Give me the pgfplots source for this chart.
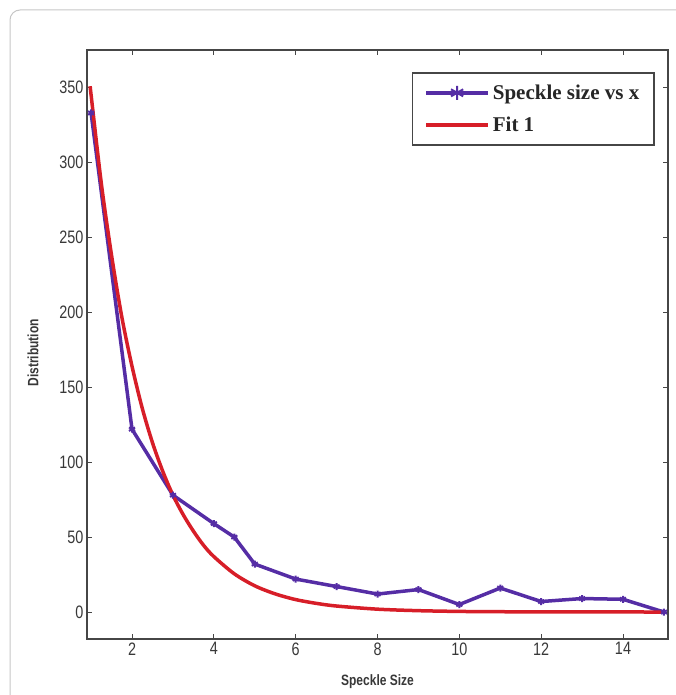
\documentclass[border=0pt]{standalone}
\usepackage{fontspec}
\setmainfont{Liberation Serif}
\newfontfamily\ticksf{Liberation Sans}
\usepackage{graphicx}
\usepackage{pgfplots}
\pgfplotsset{compat=1.18}
\definecolor{speck}{RGB}{85,45,165}
\definecolor{fitred}{RGB}{215,30,40}
\definecolor{axgray}{RGB}{70,70,70}
\begin{document}
\begin{tikzpicture}[x=1pt,y=1pt]
\path[use as bounding box] (0pt,0pt) rectangle (675pt,-695pt);
\draw[gray!45, line width=1pt, rounded corners=10pt] (10pt,-720pt) -- (10pt,-10pt) -- (700pt,-10pt);
\begin{axis}[
  at={(87pt,-50pt)}, anchor=north west,
  scale only axis, width=581pt, height=589pt,
  xmin=0.9, xmax=15.1, ymin=-18, ymax=375,
  xtick={2,4,...,14}, ytick={0,50,...,350},
  tick align=inside, major tick length=5pt,
  axis line style={axgray, line width=2pt},
  tick style={axgray, line width=1pt},
  /pgf/number format/assume math mode=true,
  xticklabel={\scalebox{0.8}[1]{\pgfmathprintnumber{\tick}}},
  yticklabel={\scalebox{0.8}[1]{\pgfmathprintnumber{\tick}}},
  ticklabel style={font=\ticksf\fontsize{18}{18}\selectfont, text=axgray!80!black},
  xlabel={\scalebox{0.8}[1]{Speckle Size}},
  ylabel={\scalebox{0.8}[1]{Distribution}},
  label style={font=\ticksf\bfseries\fontsize{15}{15}\selectfont, text=axgray!80!black},
  xlabel style={at={(axis description cs:0.5,-0.073)}, anchor=center},
  ylabel style={at={(axis description cs:-0.093,0.486)}, anchor=center},
  legend style={at={(axis description cs:0.9776,0.9626)}, anchor=north east,
    draw=axgray, line width=1.5pt, font=\bfseries\fontsize{21}{24}\selectfont,
    inner xsep=12pt, inner ysep=9pt, row sep=10pt, text=black!85,
    nodes={inner sep=3pt}},
  legend cell align=left,
  legend image code/.code={\draw[mark repeat=2,mark phase=2,#1, mark size=7pt] plot coordinates {(0pt,0pt) (31pt,0pt) (62pt,0pt)};},
]
\addplot[speck, line width=3.5pt, mark=asterisk, mark size=3.5pt, mark options={line width=2pt}] coordinates {
(1,333) (2,122) (3,78) (4,59) (4.5,50) (5,32) (6,22) (7,17) (8,12) (9,15)
(10,5) (11,16) (12,7) (13,9) (14,8.5) (15,0)};
\addlegendentry{Speckle size vs x\hspace{14pt}}
\addplot[fitred, line width=3.5pt, smooth] coordinates {
(0.98,350) (1,345) (1.25,286) (1.5,238) (1.75,197) (2,164) (2.25,136) (2.5,113)
(2.75,94) (3,78) (3.25,65) (3.5,54) (3.75,44.5) (4,37) (4.5,25.5) (5,17.5)
(5.5,12.1) (6,8.3) (6.5,5.8) (7,4) (8,1.9) (9,0.9) (10,0.4) (11,0.2) (12,0.1)
(13,0.05) (15,0.01)};
\addlegendentry{Fit 1}
\end{axis}
\end{tikzpicture}
\end{document}
